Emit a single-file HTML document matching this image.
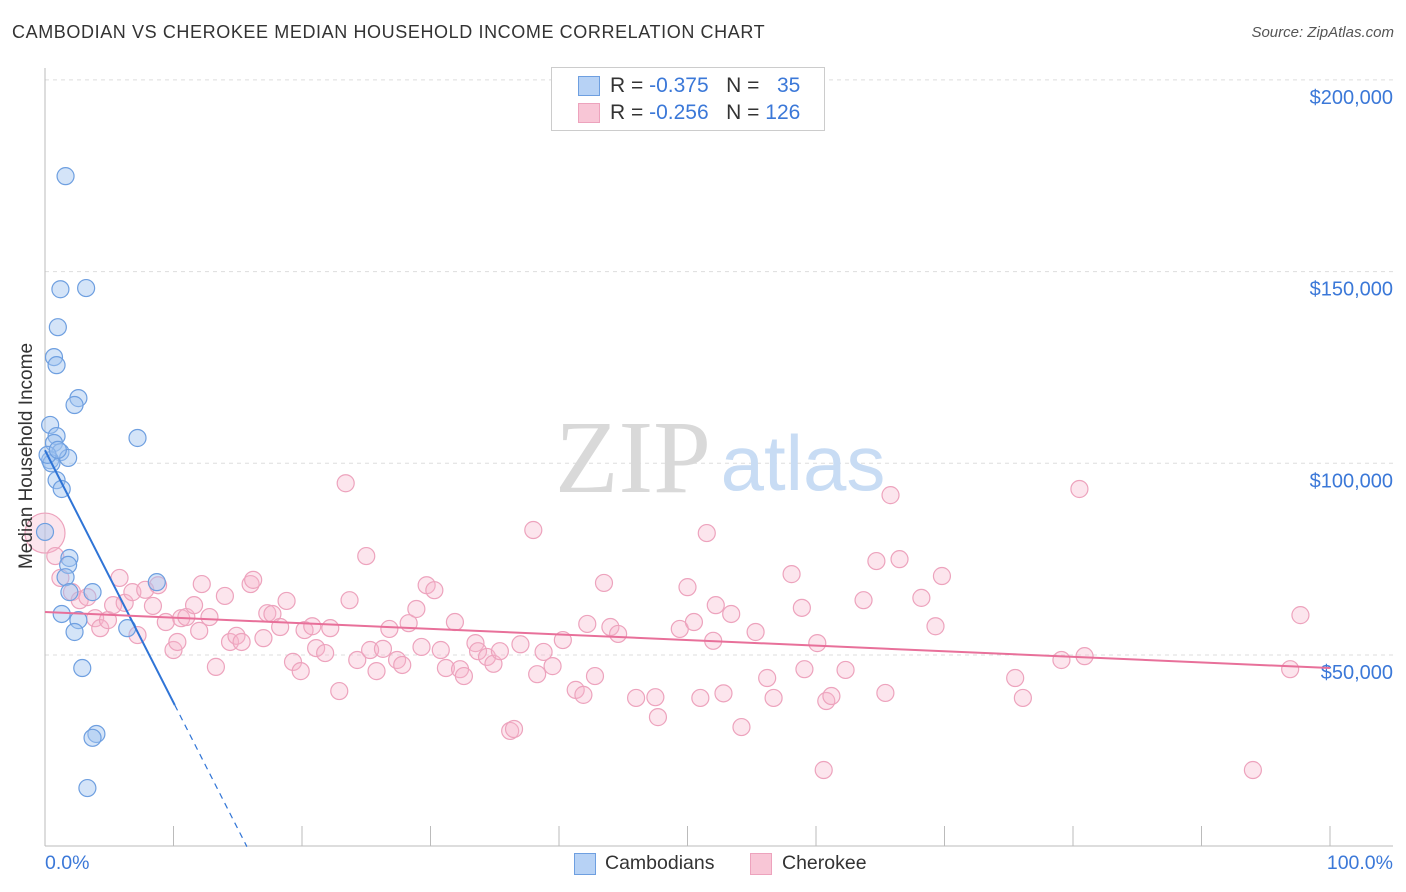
<!DOCTYPE html>
<html><head><meta charset="utf-8">
<style>
body{margin:0;background:#fff;font-family:"Liberation Sans",sans-serif;}
#wrap{position:relative;width:1406px;height:892px;overflow:hidden;}
.t{position:absolute;white-space:nowrap;}
</style></head><body>
<div id="wrap">
<div class="t" style="left:12px;top:22px;font-size:18px;color:#333;letter-spacing:0.6px">CAMBODIAN VS CHEROKEE MEDIAN HOUSEHOLD INCOME CORRELATION CHART</div>
<div class="t" style="right:12px;top:24px;font-size:15px;color:#555;font-style:italic">Source: ZipAtlas.com</div>
<svg id="svg" width="1406" height="892" style="position:absolute;left:0;top:0"></svg>
</div>
<script>
const yTicks=[50000,100000,150000,200000];
const yTickLabels=["$50,000","$100,000","$150,000","$200,000"];
const xTickCount=10;
const blueX=[1.6,1.2,3.2,1.0,0.7,0.9,2.6,2.3,0.4,0.9,0.7,1.2,1.8,0.4,0.5,0.9,1.3,7.2,0,1.9,1.8,1.6,1.9,3.7,8.7,1.3,2.6,2.3,6.4,2.9,4.0,3.7,3.3,0.2,1.0];
const blueY=[174.9,145.4,145.7,135.5,127.7,125.6,117.0,115.2,110.0,107.1,105.3,102.9,101.4,100.8,100.0,95.6,93.3,106.6,82.1,75.3,73.5,70.3,66.4,66.4,69.0,60.7,59.1,56.0,57.0,46.6,29.4,28.4,15.3,102.2,103.5];
const pinkX=[0,0.8,1.2,2.1,2.7,3.3,3.9,4.3,4.9,5.3,5.8,6.2,6.8,7.2,7.8,8.4,8.8,9.4,10.0,10.3,10.6,11.0,11.6,12.0,12.2,12.8,13.3,14.0,14.4,14.9,15.3,16.0,16.2,17.0,17.3,17.7,18.3,18.8,19.3,19.9,20.2,20.8,21.1,21.8,22.2,22.9,23.4,23.7,24.3,25.0,25.3,25.8,26.3,26.8,27.4,27.8,28.3,28.9,29.3,29.7,30.3,30.8,31.2,31.9,32.3,32.6,33.5,33.7,34.4,34.9,35.4,36.2,36.5,37.0,38.0,38.3,38.8,39.5,40.3,41.3,41.9,42.2,42.8,43.5,44.0,44.6,46.0,47.5,47.7,49.4,50.0,50.5,51.0,52.0,52.2,52.8,53.4,54.2,55.3,56.2,56.7,58.1,58.9,59.1,60.1,60.6,60.8,61.2,62.3,63.7,64.7,65.4,65.8,66.5,68.2,69.3,69.8,75.5,76.1,79.1,80.5,80.9,94.0,96.9,97.7,51.5];
const pinkY=[81.8,75.8,70.1,66.4,64.3,65.1,59.6,57.0,59.1,63.0,70.1,63.6,66.4,55.2,67.0,62.8,68.2,58.6,51.3,53.4,59.6,59.9,63.0,56.3,68.5,59.9,46.9,65.4,53.4,55.0,53.4,68.5,69.6,54.4,60.9,60.7,57.3,64.1,48.2,45.8,56.5,57.5,51.8,50.5,57.0,40.6,94.8,64.3,48.7,75.8,51.3,45.8,51.6,56.8,48.7,47.4,58.3,62.0,52.1,68.2,66.9,51.3,46.6,58.6,46.3,44.5,53.1,51.0,49.5,47.7,51.0,30.2,30.7,52.8,82.6,45.0,50.8,47.1,53.9,40.9,39.6,58.1,44.5,68.8,57.3,55.5,38.8,39.0,33.8,56.8,67.7,58.6,38.8,53.7,63.0,40.0,60.7,31.2,56.0,44.0,38.8,71.1,62.3,46.3,53.1,20.0,38.0,39.3,46.1,64.3,74.5,40.1,91.7,75.0,64.9,57.5,70.6,44.0,38.8,48.7,93.3,49.7,20.0,46.3,60.4,81.8];
const blueFit=[103.4,-6.58];
const pinkFit=[61.2,-0.146];

const X0=45,X1=1330,Y0=846.7,PXPER50K=191.7;
const sx=p=>X0+(X1-X0)*p/100;
const sy=v=>Y0-v/50000*PXPER50K;
const svg=document.getElementById('svg');
const NS='http://www.w3.org/2000/svg';
function mk(tag,attrs){const e=document.createElementNS(NS,tag);for(const k in attrs)e.setAttribute(k,attrs[k]);svg.appendChild(e);return e;}

yTicks.forEach((v,i)=>{
  const g=mk('line',{x1:45,x2:1393,y1:sy(v),y2:sy(v),stroke:'#ddd','stroke-dasharray':'4,4'});
  
  
  const t=mk('text',{x:1393,y:sy(v)+24,'text-anchor':'end','font-size':20,fill:'#3b78d8','font-family':'Liberation Sans, sans-serif'});
  t.textContent=yTickLabels[i];
  
  
});
const ax=mk('line',{x1:45,x2:1393,y1:846,y2:846,stroke:'#bbb'});


const ay=mk('line',{x1:45,x2:45,y1:68,y2:846,stroke:'#bbb'});


for(let i=0;i<=xTickCount;i++){
  const tk=mk('line',{x1:sx(i*100/xTickCount),x2:sx(i*100/xTickCount),y1:826,y2:846,stroke:'#bbb'});
  
  
}
const w1=mk('text',{x:633,y:492,'text-anchor':'middle','font-size':104,fill:'#d9d9d9','font-family':'Liberation Serif, serif'});
w1.textContent='ZIP';


const w2=mk('text',{x:803,y:490,'text-anchor':'middle','font-size':78,fill:'#c8dcf4','font-family':'Liberation Sans, sans-serif'});
w2.textContent='atlas';



pinkX.forEach((x,i)=>{
  const r=(i===0)?20:8.5;
  const c=mk('circle',{cx:sx(x),cy:sy(pinkY[i]*1000),r:r,fill:'rgba(246,180,202,0.35)',stroke:'#eda3bd','stroke-width':1.2});
  
  
});
blueX.forEach((x,i)=>{
  const c=mk('circle',{cx:sx(x),cy:sy(blueY[i]*1000),r:8.5,fill:'rgba(160,196,240,0.45)',stroke:'#6e9fe0','stroke-width':1.2});
  
  
});
const bEnd=10.1, bZero=-blueFit[0]/blueFit[1];
const bl=mk('line',{x1:sx(0),y1:sy(blueFit[0]*1000),x2:sx(bEnd),y2:sy((blueFit[0]+blueFit[1]*bEnd)*1000),stroke:'#2f74d6','stroke-width':2});


const bd=mk('line',{x1:sx(bEnd),y1:sy((blueFit[0]+blueFit[1]*bEnd)*1000),x2:sx(bZero),y2:sy(0),stroke:'#2f74d6','stroke-width':1.2,'stroke-dasharray':'6,5'});


const pl=mk('line',{x1:sx(0),y1:sy(pinkFit[0]*1000),x2:sx(100),y2:sy((pinkFit[0]+pinkFit[1]*100)*1000),stroke:'#e8709a','stroke-width':2});


</script>
<div class="t" style="left:27px;top:456px;transform:translate(-50%,-50%) rotate(-90deg);font-size:19px;color:#333">Median Household Income</div>
<div class="t" style="left:45px;top:852px;font-size:19.5px;color:#3b78d8">0.0%</div>
<div class="t" style="right:13px;top:852px;font-size:19.5px;color:#3b78d8">100.0%</div>
<div style="position:absolute;left:551px;top:67px;width:272px;height:62px;border:1px solid #ccc;background:#fff;font-size:21px;color:#333">
  <div style="position:absolute;left:26px;top:8px;width:20px;height:18px;background:#b7d2f5;border:1px solid #6e9fe0"></div>
  <div class="t" style="left:58px;top:6px">R = <span style="color:#3b78d8">-0.375</span>&nbsp;&nbsp;&nbsp;N = &nbsp;&nbsp;<span style="color:#3b78d8">35</span></div>
  <div style="position:absolute;left:26px;top:35px;width:20px;height:18px;background:#f8c6d6;border:1px solid #eda3bd"></div>
  <div class="t" style="left:58px;top:33px">R = <span style="color:#3b78d8">-0.256</span>&nbsp;&nbsp;&nbsp;N = <span style="color:#3b78d8">126</span></div>
</div>
<div style="position:absolute;left:574px;top:853px;width:20px;height:20px;background:#b7d2f5;border:1px solid #6e9fe0"></div>
<div class="t" style="left:605px;top:852px;font-size:19.5px;color:#333">Cambodians</div>
<div style="position:absolute;left:750px;top:853px;width:20px;height:20px;background:#f8c6d6;border:1px solid #eda3bd"></div>
<div class="t" style="left:782px;top:852px;font-size:19.5px;color:#333">Cherokee</div>
</body></html>
